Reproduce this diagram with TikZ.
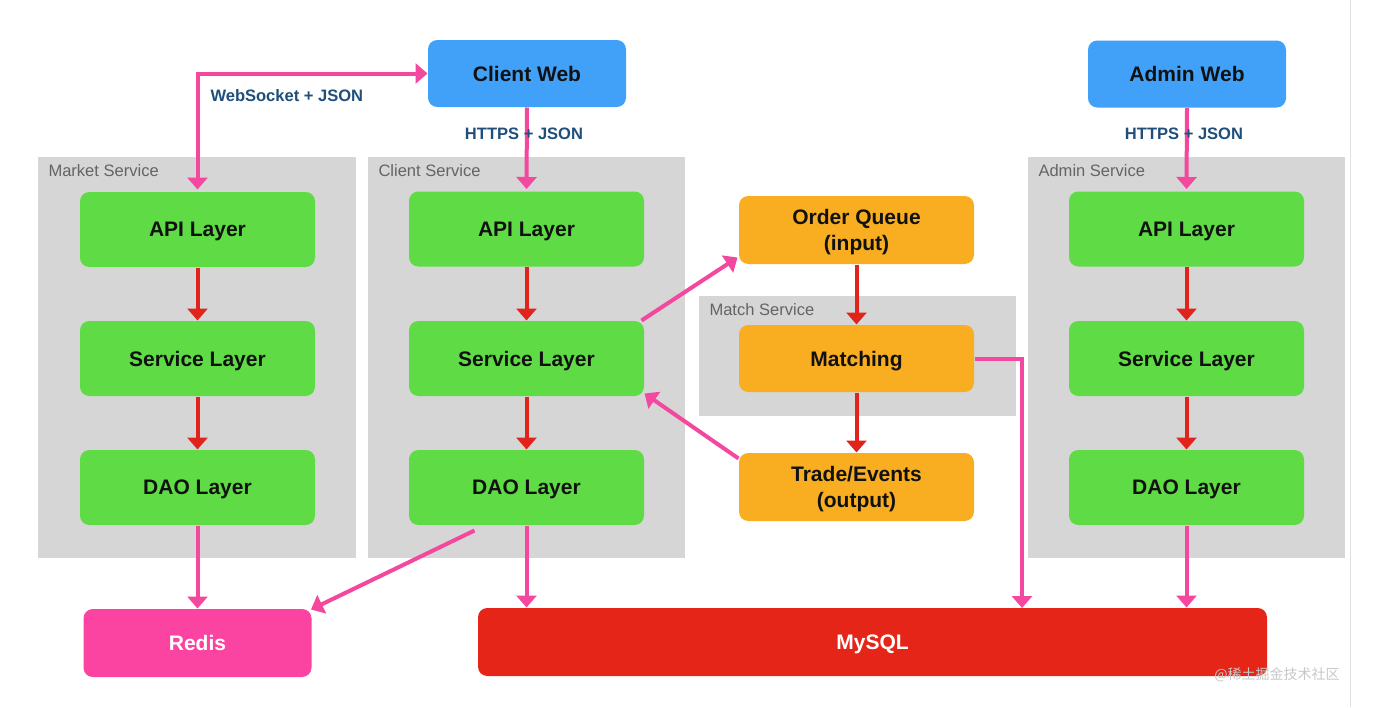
\documentclass[tikz,border=0pt]{standalone}
\usepackage{fontspec}
\setmainfont{Liberation Sans}
\newfontfamily\cjkfont{Noto Sans CJK SC}
\usetikzlibrary{arrows.meta,calc}

\tikzset{every picture/.style={line width=0.75pt}}
\tikzset{
  grp/.style={fill={rgb, 255:red, 214; green, 214; blue, 214 }, draw=none, inner sep=0pt, minimum width=238pt, minimum height=300.75pt},
  grplabel/.style={anchor=base west, inner sep=0pt, text={rgb, 255:red, 100; green, 100; blue, 100 }, font=\fontsize{12.4}{14}\selectfont},
  box/.style={draw=none, rounded corners=7pt, inner sep=0pt, align=center, text depth=0pt, minimum width=176.25pt, minimum height=56.25pt, text={rgb, 255:red, 17; green, 17; blue, 17 }, font=\fontsize{15.75}{20}\selectfont\bfseries},
  layerbox/.style={box, fill={rgb, 255:red, 95; green, 219; blue, 69 }},
  webbox/.style={box, fill={rgb, 255:red, 65; green, 161; blue, 249 }, minimum width=148.5pt, minimum height=50.25pt},
  matchbox/.style={box, fill={rgb, 255:red, 248; green, 174; blue, 32 }, minimum height=51pt},
  storebox/.style={box, minimum height=51pt, text=white},
  linklabel/.style={inner sep=0pt, text={rgb, 255:red, 31; green, 79; blue, 122 }, font=\fontsize{12.4}{14}\selectfont\bfseries},
  pinkline/.style={draw={rgb, 255:red, 244; green, 72; blue, 158 }, line width=3pt, -{Triangle[width=15pt,length=9pt]}},
  redline/.style={draw={rgb, 255:red, 224; green, 36; blue, 27 }, line width=3pt, -{Triangle[width=15pt,length=9pt]}}
}

\begin{document}
\begin{tikzpicture}[x=0.75pt,y=0.75pt,yscale=-1,xscale=1]
%set diagram left start at 0, and has height of 707
\useasboundingbox (0,0) rectangle (1391,707);
\fill[white] (0,0) rectangle (1391,707);
%Straight Lines
\draw [color={rgb, 255:red, 224; green, 224; blue, 224 }] (1350,0) -- (1350,707);

%Shape: Rectangle (service groups)
\node [grp] (mgrp) at (197,357.5) {};
\node [grp] (cgrp) at (526.5,357.5) {};
\node [grp] (agrp) at (1186.5,357.5) {};
\node [grp, minimum height=90pt] (xgrp) at (857.5,356) {};
% Text Node
\node [grplabel] (mgrplbl) at (48,176) {Market Service};
% Text Node
\node [grplabel] (cgrplbl) at (378,176) {Client Service};
% Text Node
\node [grplabel] (agrplbl) at (1038,176) {Admin Service};
% Text Node
\node [grplabel] (xgrplbl) at (709,315) {Match Service};

%Shape: Rounded Rect (webs)
\node [webbox] (cweb) at (527,73.5) {Client Web};
\node [webbox] (aweb) at (1187,74) {Admin Web};

%Shape: Rounded Rect (market service)
\node [layerbox] (mapi) at (197.5,229.5) {API Layer};
\node [layerbox] (mserv) at (197.5,358.5) {Service Layer};
\node [layerbox] (mdao) at (197.5,487.5) {DAO Layer};
%Shape: Rounded Rect (client service)
\node [layerbox] (capi) at (526.5,229) {API Layer};
\node [layerbox] (cserv) at (526.5,358.5) {Service Layer};
\node [layerbox] (cdao) at (526.5,487.5) {DAO Layer};
%Shape: Rounded Rect (admin service)
\node [layerbox] (aapi) at (1186.5,229) {API Layer};
\node [layerbox] (aserv) at (1186.5,358.5) {Service Layer};
\node [layerbox] (adao) at (1186.5,487.5) {DAO Layer};

%Shape: Rounded Rect (match service)
\node [matchbox] (oq) at (856.5,230) {Order Queue\\(input)};
\node [matchbox, minimum height=50.25pt] (match) at (856.5,358.5) {Matching};
\node [matchbox] (trade) at (856.5,487) {Trade/Events\\(output)};

%Shape: Rounded Rect (storage)
\node [storebox, fill={rgb, 255:red, 251; green, 68; blue, 161 }, minimum width=171pt] (redis) at (197.5,643) {Redis};
\node [storebox, fill={rgb, 255:red, 228; green, 37; blue, 24 }, minimum width=591.75pt] (mysql) at (872.5,642) {MySQL};

%Straight Lines (red, inside services)
\draw [redline] (mapi.south) -- (mserv.north);
\draw [redline] (mserv.south) -- (mdao.north);
\draw [redline] (capi.south) -- (cserv.north);
\draw [redline] (cserv.south) -- (cdao.north);
\draw [redline] (aapi.south) -- (aserv.north);
\draw [redline] (aserv.south) -- (adao.north);
\draw [redline] (oq.south) -- (match.north);
\draw [redline] (match.south) -- (trade.north);

%Straight Lines (pink, between parts)
\draw [pinkline, {Triangle[width=15pt,length=9pt]}-{Triangle[width=15pt,length=9pt]}] ($(mapi.north)+(0,-2)$) |- (cweb.west);
\draw [pinkline] (cweb.south) -- ($(capi.north)+(0,-2)$);
\draw [pinkline] (aweb.south) -- ($(aapi.north)+(0,-2)$);
\draw [pinkline] ($(cserv.north east)+(-3,0)$) -- ($(oq.south west)+(-1,-7)$);
\draw [pinkline] ($(trade.north west)+(0,6)$) -- ($(cserv.south east)+(0,-3)$);
\draw [pinkline] (mdao.south) -- (redis.north);
\draw [pinkline] ($(cdao.south)+(-52,5)$) -- ($(redis.north east)+(-1,1)$);
\draw [pinkline] (cdao.south) -- (cdao.south |- mysql.north);
\draw [pinkline] (adao.south) -- (adao.south |- mysql.north);
\coordinate (mtodb) at (1022,608);
\draw [pinkline] (match.east) -| (mtodb);

% Text Node
\node [linklabel, anchor=base west] (wslbl) at (210,101) {WebSocket + JSON};
% Text Node
\node [linklabel, anchor=base] (clbl) at (524,139) {HTTPS + JSON};
% Text Node
\node [linklabel, anchor=base] (albl) at (1184,139) {HTTPS + JSON};
% Text Node
\node [inner sep=0pt, text={rgb, 255:red, 200; green, 200; blue, 200 }, font=\cjkfont\fontsize{10.5}{12}\selectfont] (wmark) at (1277,675) {@稀土掘金技术社区};

\end{tikzpicture}
\end{document}
